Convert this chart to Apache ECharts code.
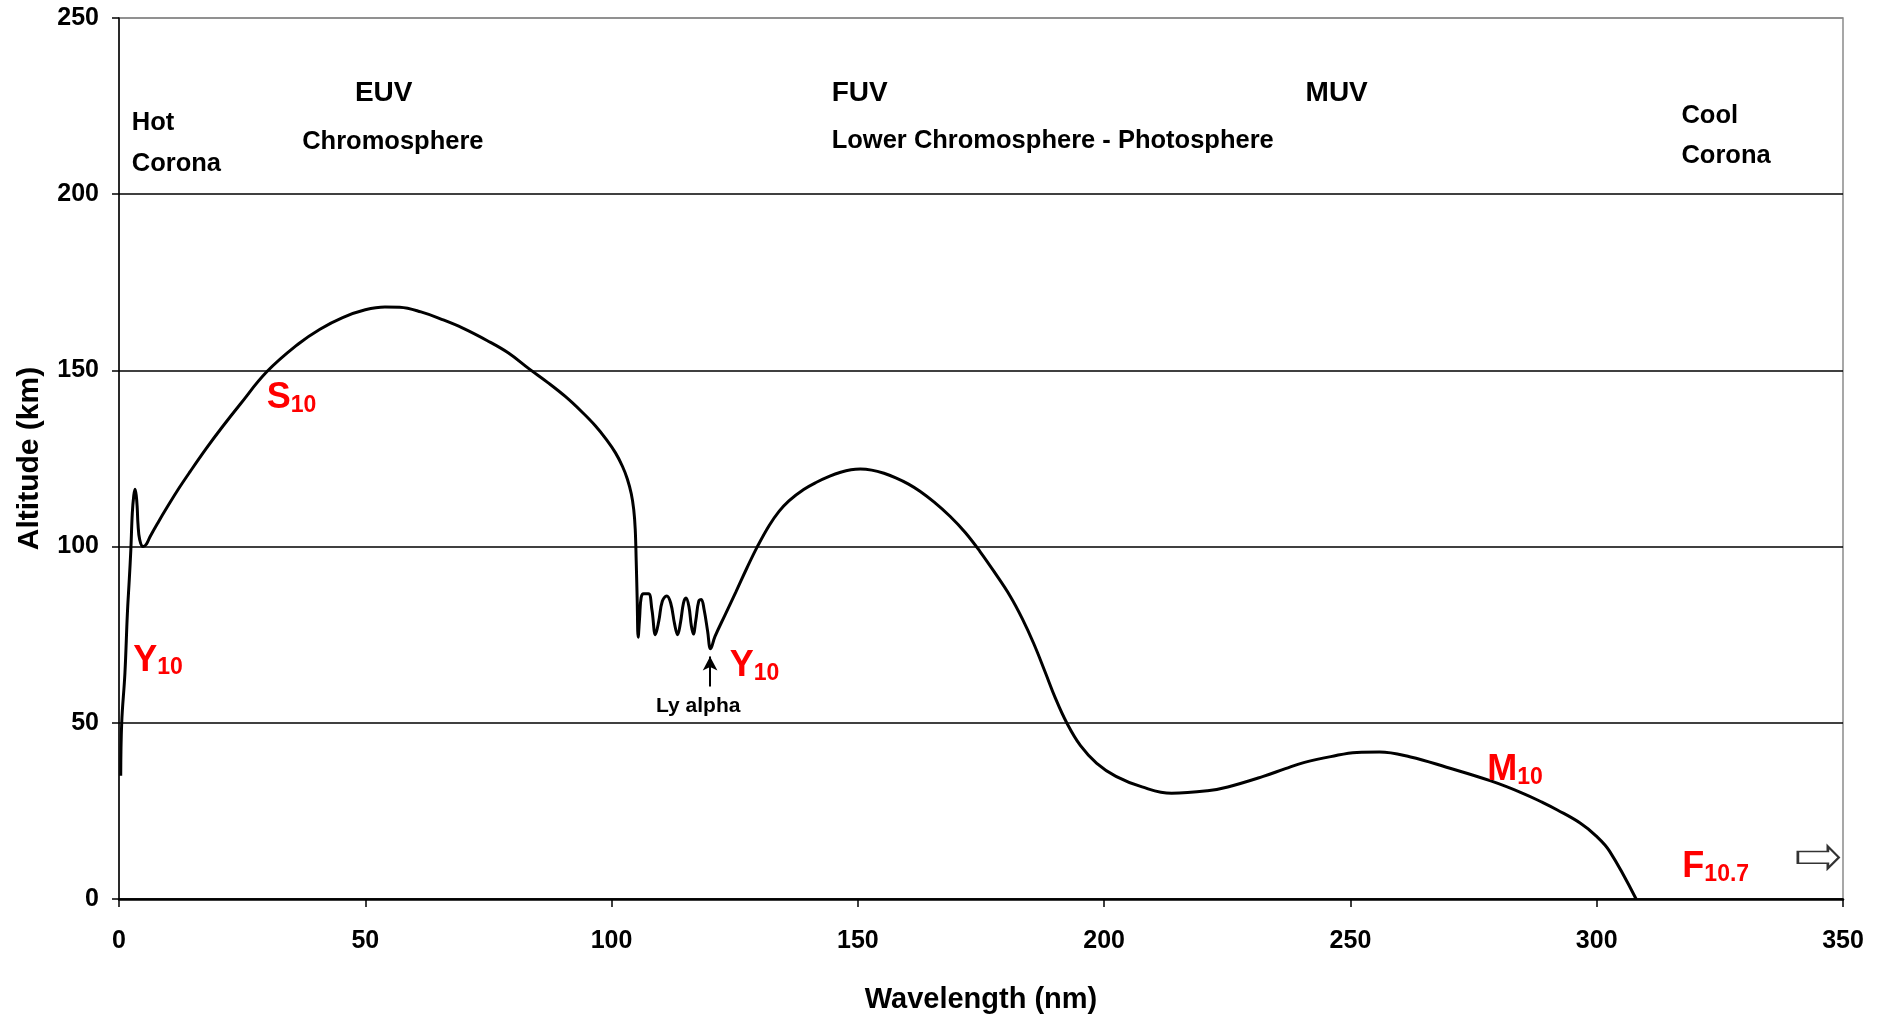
<!DOCTYPE html>
<html>
<head>
<meta charset="utf-8">
<script src="https://cdn.jsdelivr.net/npm/echarts@6/dist/echarts.min.js"></script>
<style>
html,body{margin:0;padding:0;background:#fff;}
#chart{width:1885px;height:1021px;}
</style>
</head>
<body>
<div id="chart"></div>
<script>
// ---- Data ----
const wavelength = [0.35, 0.55, 1.2, 1.7, 2.1, 2.4, 2.7, 3.0, 3.25, 3.5, 3.7, 3.85, 4.2, 4.9, 5.6, 6.3, 8.0, 9.7, 12.0, 14.4,
  17.8, 21.0, 24.6, 30.0, 36.4, 40.8, 45.4, 50.0, 54.0, 57.0, 61.3, 65.5, 69.8, 74.7, 79.0, 83.2, 87.0, 90.6, 94.0, 96.7,
  99.0, 100.8, 102.2, 103.2, 104.0, 104.5, 104.8, 105.0, 105.2, 105.4, 105.7, 106.0, 106.5, 107.5, 108.2, 108.9, 109.6, 110.3, 111.2, 112.0,
  112.8, 113.4, 114.0, 114.6, 115.1, 115.7, 116.2, 116.6, 117.1, 117.7, 118.2, 118.8, 119.5, 120.1, 121.0, 123.0, 125.2, 127.5, 129.6,
  132.0, 134.0, 136.0, 139.0, 141.5, 144.3, 146.5, 148.6, 150.5, 152.8, 155.3, 157.7, 160.2, 162.6, 165.5, 168.7, 171.8, 174.8, 177.8, 180.9,
  183.4, 185.7, 188.0, 190.1, 192.4, 195.2, 198.5, 202.4, 207.7, 213.7, 221.0, 225.1, 232.3, 236.8, 240.5, 246.0, 251.3, 255.9, 262.2, 269.5,
  278.5, 285.0, 289.0, 292.1, 296.7, 299.8, 302.6, 308.0];
const altitude = [35, 50, 64, 81, 91, 99, 109.5, 114.5, 116.3, 114.5, 111, 106.5, 102, 100, 100.8, 102.8, 107, 111, 116.2, 121.2,
  128, 134, 140.4, 149.6, 157.5, 161.7, 165, 167.2, 168, 167.9, 166.6, 164.5, 162, 158.5, 155, 150.5, 146.6, 142.6, 138.2, 134.3,
  130.3, 126.6, 122.8, 119.2, 115, 110.5, 105, 96, 85, 74.3, 80, 85.5, 86.6, 86.6, 82, 75, 79, 84.5, 86, 84,
  78, 75, 78.5, 84, 85.4, 83, 77.5, 75.2, 79, 84.5, 85, 82, 76, 71, 74.5, 80.5, 87, 94, 100,
  106, 110, 113, 116.2, 118.2, 120, 121.1, 121.8, 122, 121.7, 120.8, 119.5, 117.8, 115.7, 112.6, 108.6, 104, 98.6, 92.6, 86,
  79.5, 72.5, 64.5, 57, 50, 43.5, 38.5, 34.8, 31.8, 30, 30.7, 31.8, 34.8, 37, 38.7, 40.4, 41.6, 41.7, 40.3, 37.4,
  33.5, 30, 27.4, 25.2, 21.5, 18, 13.6, 0];

// Region annotations (anchor: left edge / vertical centre, in data units)
const regionText = ['Hot', 'Corona', 'EUV', 'Chromosphere', 'FUV', 'Lower Chromosphere - Photosphere', 'MUV', 'Cool', 'Corona'];
const regionX = [2.6, 2.6, 47.9, 37.2, 144.7, 144.7, 240.9, 317.2, 317.2];
const regionY = [220.2, 208.7, 228.6, 214.9, 228.6, 215.0, 228.6, 222.3, 210.9];
const headerNames = ['EUV', 'FUV', 'MUV'];

// Proxy labels (red)
const proxyMain = ['Y', 'S', 'Y', 'M', 'F'];
const proxySub = ['10', '10', '10', '10', '10.7'];
const proxyX = [2.9, 30.0, 124.0, 277.8, 317.4];
const proxyY = [67.5, 142.0, 65.8, 36.3, 9.0];

// Ly alpha note
const lyText = ['Ly alpha'];
const lyX = [117.6];
const lyY = [54.6];
const lyArrowX = [120.0];
const lyArrowY = [60.3, 68.8];

// F10.7 arrow (pointing beyond the axis)
const fArrowX = [345.0];
const fArrowY = [11.8];

const xTickValues = [0, 50, 100, 150, 200, 250, 300, 350];
const yTickValues = [0, 50, 100, 150, 200, 250];

// ---- Chart ----
const FONT = '"Liberation Sans", Arial, Helvetica, sans-serif';
const chart = echarts.init(document.getElementById('chart'), null, {renderer: 'canvas'});

const curve = wavelength.map((x, i) => [x, altitude[i]]);
const regionData = regionText.map((t, i) => ({
  value: [regionX[i], regionY[i]],
  label: {formatter: t, fontSize: headerNames.includes(t) ? 28 : 25.5}
}));
const proxyData = proxyMain.map((m, i) => ({
  value: [proxyX[i], proxyY[i]],
  label: {formatter: '{m|' + m + '}{s|' + proxySub[i] + '}'}
}));
const noBorder = {textBorderWidth: 0, textBorderColor: 'transparent', textShadowBlur: 0, opacity: 1};

chart.setOption({
  animation: false,
  backgroundColor: '#fff',
  grid: {left: 119, right: 42, top: 18, bottom: 122, show: true, borderColor: '#8a8a8a', borderWidth: 1.5},
  xAxis: {
    type: 'value', min: xTickValues[0], max: xTickValues[xTickValues.length - 1], interval: 50,
    name: 'Wavelength (nm)', nameLocation: 'middle', nameGap: 86,
    nameTextStyle: {fontFamily: FONT, fontWeight: 'bold', fontSize: 29, color: '#000'},
    axisLine: {show: true, lineStyle: {color: '#000', width: 2.5}},
    axisTick: {show: true, inside: false, length: 8, lineStyle: {color: '#000', width: 1.5}},
    axisLabel: {fontFamily: FONT, fontWeight: 'bold', fontSize: 25, color: '#000', margin: 30},
    splitLine: {show: false}
  },
  yAxis: {
    type: 'value', min: yTickValues[0], max: yTickValues[yTickValues.length - 1], interval: 50,
    name: 'Altitude (km)', nameLocation: 'middle', nameGap: 74, nameRotate: 90,
    nameTextStyle: {fontFamily: FONT, fontWeight: 'bold', fontSize: 30, color: '#000'},
    axisLine: {show: true, lineStyle: {color: '#000', width: 1.5}},
    axisTick: {show: true, inside: false, length: 7, lineStyle: {color: '#000', width: 1.5}},
    axisLabel: {fontFamily: FONT, fontWeight: 'bold', fontSize: 25, color: '#000', margin: 20},
    splitLine: {show: true, lineStyle: {color: ['#000', '#000', '#000', '#000', '#000', '#8a8a8a'], width: 1.5}}
  },
  series: [
    {
      type: 'line', data: curve, showSymbol: false, smooth: 0.4,
      lineStyle: {color: '#000', width: 3}, silent: true, z: 3,
      markLine: {
        silent: true, symbol: ['none', 'arrow'], symbolSize: [11, 14],
        lineStyle: {color: '#000', width: 2, type: 'solid'},
        label: {show: false},
        data: [[{coord: [lyArrowX[0], lyArrowY[0]]}, {coord: [lyArrowX[0], lyArrowY[1]]}]]
      }
    },
    {
      type: 'scatter', data: regionData, symbolSize: 0.1, itemStyle: {color: '#000', opacity: 0}, silent: true, z: 5,
      label: Object.assign({show: true, position: [0, 0], align: 'left', verticalAlign: 'middle',
        fontFamily: FONT, fontWeight: 'bold', color: '#000'}, noBorder)
    },
    {
      type: 'scatter', data: proxyData, symbolSize: 0.1, itemStyle: {color: '#ff0000', opacity: 0}, silent: true, z: 5,
      label: Object.assign({show: true, position: [0, 0], align: 'left', verticalAlign: 'middle',
        color: '#ff0000',
        rich: {
          m: Object.assign({fontFamily: FONT, fontWeight: 'bold', fontSize: 36, color: '#ff0000', lineHeight: 37, verticalAlign: 'top'}, noBorder),
          s: Object.assign({fontFamily: FONT, fontWeight: 'bold', fontSize: 23, color: '#ff0000', lineHeight: 23, verticalAlign: 'bottom', padding: [27, 0, 0, 0]}, noBorder)
        }}, noBorder)
    },
    {
      type: 'scatter', data: lyText.map((t, i) => ({value: [lyX[i], lyY[i]], label: {formatter: t}})),
      symbolSize: 0.1, itemStyle: {color: '#000', opacity: 0}, silent: true, z: 5,
      label: Object.assign({show: true, position: [0, 0], align: 'center', verticalAlign: 'middle',
        fontFamily: FONT, fontWeight: 'bold', fontSize: 21, color: '#000'}, noBorder)
    },
    {
      type: 'scatter', data: fArrowX.map((x, i) => [x, fArrowY[i]]), silent: true, z: 5,
      symbol: 'path://M0,15 L90,15 L90,0 L123,32.5 L90,65 L90,50 L0,50 Z',
      symbolSize: [41, 22], symbolKeepAspect: false,
      itemStyle: {color: '#fff', borderColor: '#000', borderWidth: 2}
    }
  ]
});
</script>
</body>
</html>
